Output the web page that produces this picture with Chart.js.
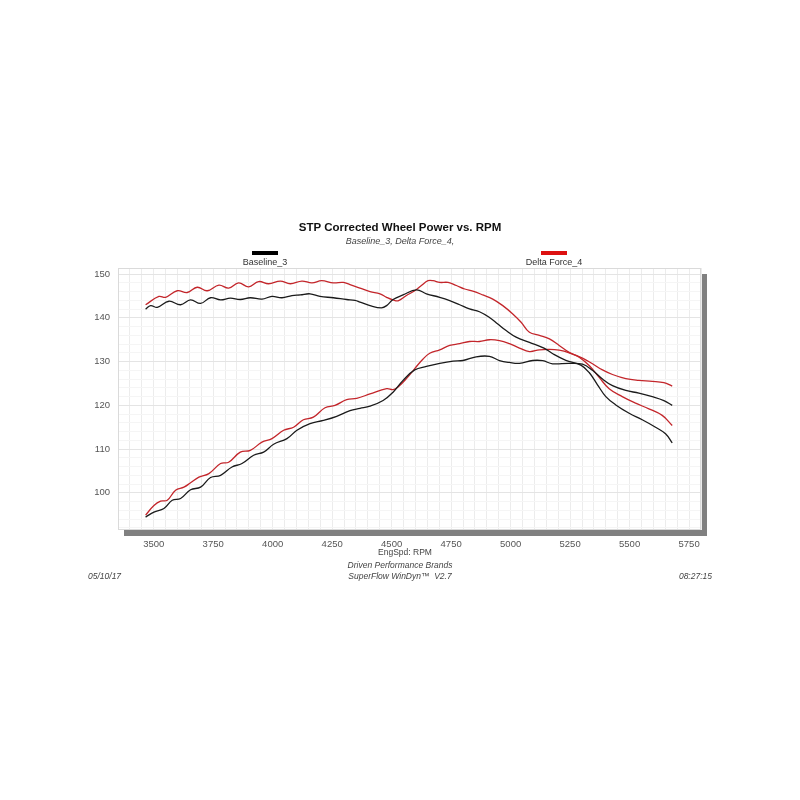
<!DOCTYPE html>
<html>
<head>
<meta charset="utf-8">
<title>STP Corrected Wheel Power vs. RPM</title>
<script src="https://cdn.jsdelivr.net/npm/chart.js@4.4.1/dist/chart.umd.min.js"></script>
<style>
  html, body { margin: 0; padding: 0; background: #fff; }
  #wrap { width: 800px; height: 800px; }
</style>
</head>
<body>
<div id="wrap"><canvas id="dynoChart" width="800" height="800"></canvas></div>
<script>
// run names (legend + subtitle)
const runNames = ["Baseline_3", "Delta Force_4"];

// Baseline_3 torque curve
const baseTqRpm = [3466,3487,3515,3564,3613,3655,3697,3739,3781,3822,3864,3906,3955,3997,4039,4081,4116,4157,4199,4255,4311,4346,4367,4409,4457,4479,4506,4548,4604,4646,4702,4744,4786,4827,4869,4911,4946,4981,5023,5079,5140,5177,5232,5295,5330,5365,5400,5442,5498,5553,5609,5651,5679];
const baseTq = [142.0,142.8,142.4,143.8,143.0,144.1,143.3,144.6,144.1,144.5,144.2,144.6,144.3,144.9,144.6,145.1,145.25,145.5,144.9,144.6,144.2,144.0,143.6,142.8,142.3,142.8,144.2,145.25,146.4,145.5,144.7,143.95,143.0,142.05,141.4,140.1,138.6,137.1,135.6,134.4,133.1,131.8,130.3,129.2,127.5,124.7,122.0,120.1,118.2,116.7,115.0,113.5,111.4];

// Baseline_3 power curve
const basePwrRpm = [3466,3501,3543,3578,3613,3655,3697,3739,3781,3829,3871,3920,3962,4004,4060,4102,4157,4213,4269,4325,4367,4409,4464,4506,4548,4597,4646,4702,4758,4800,4855,4911,4953,4995,5037,5093,5135,5176,5246,5302,5344,5386,5428,5484,5539,5595,5644,5679];
const basePwr = [94.45,95.6,96.4,98.3,98.7,100.7,101.3,103.5,104.0,105.9,106.7,108.6,109.3,111.1,112.4,114.3,115.8,116.55,117.5,118.8,119.3,119.8,121.1,123.0,125.7,128.1,128.9,129.6,130.1,130.25,131.1,131.2,130.25,129.8,129.6,130.25,130.2,129.5,129.6,129.4,128.0,126.0,124.5,123.4,122.8,122.0,121.1,120.0];

// Delta Force_4 torque curve
const dfTqRpm = [3466,3522,3550,3599,3641,3683,3725,3774,3815,3857,3899,3941,3983,4032,4074,4123,4165,4206,4255,4297,4325,4367,4409,4451,4479,4506,4527,4562,4597,4625,4653,4674,4702,4737,4772,4807,4841,4883,4925,4967,5009,5044,5079,5121,5163,5204,5246,5288,5330,5372,5414,5469,5525,5581,5637,5679];
const dfTq = [143.0,144.9,144.7,146.2,145.8,147.0,146.2,147.5,146.8,148.0,147.1,148.3,147.8,148.4,147.8,148.4,148.0,148.5,148.0,148.1,147.6,146.8,146.0,145.5,144.7,144.1,143.9,145.1,146.2,147.4,148.5,148.5,148.1,148.1,147.4,146.6,146.1,145.25,144.3,142.8,140.9,139.0,136.7,136.0,135.2,133.7,132.1,131.0,129.1,126.4,123.8,122.0,120.5,119.2,117.7,115.4];

// Delta Force_4 power curve
const dfPwrRpm = [3466,3501,3529,3557,3592,3627,3655,3690,3732,3781,3815,3864,3906,3955,3997,4046,4088,4129,4171,4220,4262,4311,4353,4409,4479,4506,4527,4562,4597,4632,4660,4702,4744,4786,4827,4869,4911,4953,4995,5037,5079,5121,5163,5204,5246,5302,5344,5386,5428,5484,5539,5595,5644,5679];
const dfPwr = [94.9,97.1,98.1,98.3,100.6,101.3,102.3,103.6,104.4,106.7,107.0,109.3,109.7,111.6,112.4,114.3,115.0,116.7,117.3,119.45,120.0,121.3,121.6,122.6,123.8,123.6,124.2,126.1,128.4,130.6,131.9,132.7,133.7,134.1,134.6,134.6,135.0,134.8,134.1,133.1,132.3,132.7,132.8,132.6,132.0,130.8,129.5,128.1,127.05,126.1,125.7,125.5,125.2,124.4];

// axes
const rpmMin = 3350, rpmMax = 5800, rpmGridStep = 50;
const xTickLabels = [3500, 3750, 4000, 4250, 4500, 4750, 5000, 5250, 5500, 5750];
const valMin = 91.5, valMax = 151.4, valGridStep = 2;
const yTickLabels = [100, 110, 120, 130, 140, 150];

// footer texts
const footerDate = "05/10/17";
const footerTime = "08:27:15";
const footerLines = ["Driven Performance Brands", "SuperFlow WinDyn\u2122  V2.7"];

const BLACK = "#1b1b1b";
const RED = "#c3262b";
const FONT = "'Liberation Sans', Arial, sans-serif";

function pts(xs, ys) {
  return xs.map((x, i) => ({ x: x, y: ys[i] }));
}

function line(label, xs, ys, color) {
  return {
    label: label,
    data: pts(xs, ys),
    borderColor: color,
    borderWidth: 1.3,
    pointRadius: 0,
    tension: 0.4,
    fill: false
  };
}

function gridTicks(from, to, step) {
  const out = [];
  for (let v = Math.ceil(from / step) * step; v <= to; v += step) out.push({ value: v });
  return out;
}

const dynoFrame = {
  id: "dynoFrame",
  beforeDraw(chart) {
    const { ctx, chartArea: a } = chart;
    ctx.save();
    ctx.fillStyle = "#fff";
    ctx.fillRect(0, 0, chart.width, chart.height);
    // drop shadow under the plot
    ctx.fillStyle = "#808080";
    ctx.fillRect(a.left + 6, a.top + 6, a.right - a.left, a.bottom - a.top);
    ctx.fillStyle = "#fff";
    ctx.fillRect(a.left, a.top, a.right - a.left, a.bottom - a.top);
    ctx.restore();
  },
  afterDraw(chart) {
    const { ctx, chartArea: a } = chart;
    ctx.save();
    ctx.strokeStyle = "#dadada";
    ctx.lineWidth = 1;
    ctx.strokeRect(a.left + 0.5, a.top + 0.5, a.right - a.left - 1, a.bottom - a.top - 1);

    ctx.textAlign = "center";
    ctx.textBaseline = "middle";

    // title + subtitle
    ctx.fillStyle = "#111";
    ctx.font = "bold 11.5px " + FONT;
    ctx.fillText("STP Corrected Wheel Power vs. RPM", 400, 228);
    ctx.fillStyle = "#444";
    ctx.font = "italic 9px " + FONT;
    ctx.fillText(runNames.map(n => n + ",").join(" "), 400, 241);

    // legend: one entry per run
    const legendX = [265, 554];
    const legendColor = ["#000", "#dd1111"];
    runNames.forEach((name, i) => {
      ctx.fillStyle = legendColor[i];
      ctx.fillRect(legendX[i] - 13, 251, 26, 4);
      ctx.fillStyle = "#333";
      ctx.font = "9px " + FONT;
      ctx.fillText(name, legendX[i], 263);
    });

    // x axis title
    ctx.fillStyle = "#444";
    ctx.font = "8.5px " + FONT;
    ctx.fillText("EngSpd: RPM", 405, 553);

    // footer
    ctx.font = "italic 8.5px " + FONT;
    ctx.fillText(footerLines[0], 400, 566);
    ctx.fillText(footerLines[1], 400, 577);
    ctx.textAlign = "left";
    ctx.fillText(footerDate, 88, 577);
    ctx.textAlign = "right";
    ctx.fillText(footerTime, 712, 577);
    ctx.restore();
  }
};

Chart.defaults.font.family = FONT;
Chart.defaults.font.size = 9.5;
Chart.defaults.color = "#555";

new Chart(document.getElementById("dynoChart"), {
  type: "line",
  data: {
    datasets: [
      line("Baseline_3 Tq", baseTqRpm, baseTq, BLACK),
      line("Baseline_3 Pwr", basePwrRpm, basePwr, BLACK),
      line("Delta Force_4 Tq", dfTqRpm, dfTq, RED),
      line("Delta Force_4 Pwr", dfPwrRpm, dfPwr, RED)
    ]
  },
  options: {
    responsive: false,
    animation: false,
    devicePixelRatio: 1,
    layout: { padding: { top: 268, right: 99, bottom: 240, left: 0 } },
    plugins: {
      legend: { display: false },
      title: { display: false },
      tooltip: { enabled: false }
    },
    scales: {
      x: {
        type: "linear",
        min: rpmMin,
        max: rpmMax,
        afterBuildTicks(scale) { scale.ticks = gridTicks(rpmMin, rpmMax, rpmGridStep); },
        afterFit(scale) { scale.height = 30; },
        border: { display: false },
        grid: { color: "#ececec", lineWidth: 1, drawTicks: false },
        ticks: {
          autoSkip: false,
          maxRotation: 0,
          padding: 9,
          color: "#555",
          callback: v => (xTickLabels.includes(v) ? String(v) : "")
        }
      },
      y: {
        min: valMin,
        max: valMax,
        afterBuildTicks(scale) { scale.ticks = gridTicks(valMin, valMax, valGridStep); },
        afterFit(scale) { scale.width = 118; },
        border: { display: false },
        grid: {
          drawTicks: false,
          color: ctx => (ctx.tick && yTickLabels.includes(ctx.tick.value) ? "#e4e4e4" : "#f5f5f5")
        },
        ticks: {
          autoSkip: false,
          padding: 8,
          color: "#555",
          callback: v => (yTickLabels.includes(v) ? String(v) : "")
        }
      }
    }
  },
  plugins: [dynoFrame]
});
</script>
</body>
</html>
